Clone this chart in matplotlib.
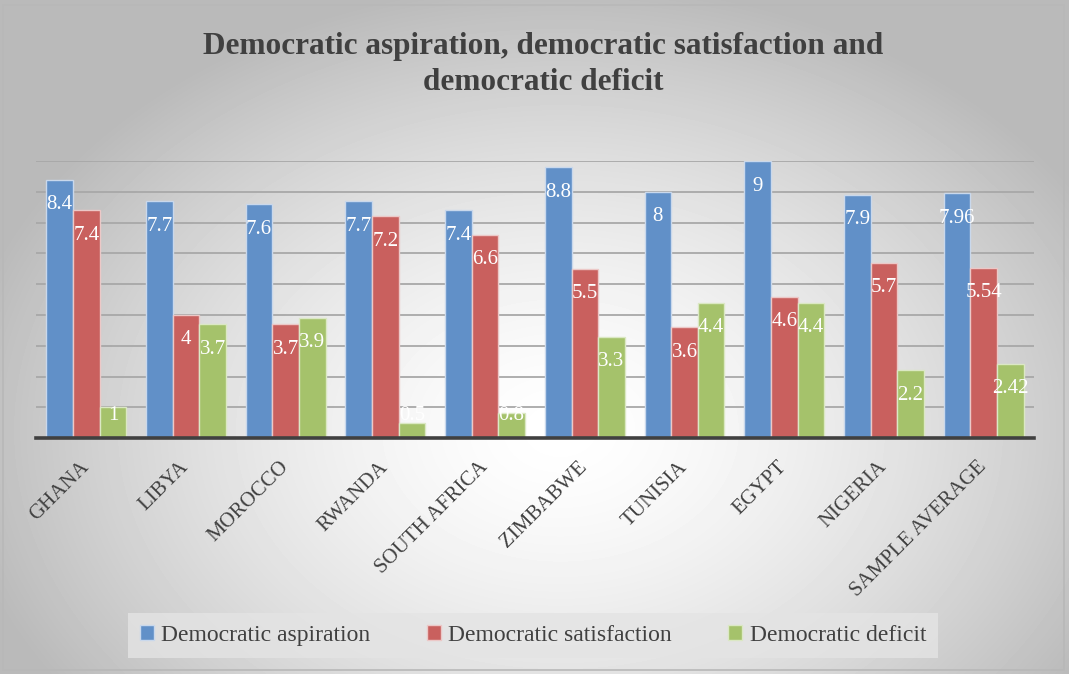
import numpy as np
import matplotlib
matplotlib.use("Agg")
from matplotlib import pyplot as plt
from matplotlib.transforms import ScaledTranslation

countries = ["GHANA", "LIBYA", "MOROCCO", "RWANDA", "SOUTH AFRICA", "ZIMBABWE",
             "TUNISIA", "EGYPT", "NIGERIA", "SAMPLE AVERAGE"]
aspiration = [8.4, 7.7, 7.6, 7.7, 7.4, 8.8, 8, 9, 7.9, 7.96]
satisfaction = [7.4, 4, 3.7, 7.2, 6.6, 5.5, 3.6, 4.6, 5.7, 5.54]
deficit = [1, 3.7, 3.9, 0.5, 0.8, 3.3, 4.4, 4.4, 2.2, 2.42]

series = [
    ("Democratic aspiration", aspiration, "#6190c8", "#c9d8ec"),
    ("Democratic satisfaction", satisfaction, "#c9605e", "#ecc8c7"),
    ("Democratic deficit", deficit, "#a5c26b", "#dbe8c4"),
]

serif = ["Liberation Serif", "DejaVu Serif"]
txt_color = "#404040"

fig = plt.figure(figsize=(10.69, 6.74), dpi=100)

# radial gradient background
bg = fig.add_axes([0, 0, 1, 1], zorder=-10)
yy, xx = np.mgrid[0:674, 0:1069]
r = np.sqrt(((xx - 560) / 680.0) ** 2 + ((yy - 430) / 500.0) ** 2)
shade = np.clip(1.0 - 0.32 * r ** 1.5, 0.73, 1.0)
bg.imshow(shade, cmap="gray", vmin=0, vmax=1, aspect="auto", extent=[0, 1, 0, 1])
bg.add_patch(plt.Rectangle((0.003, 0.006), 0.992, 0.986, fill=False,
                           edgecolor="#b8b8b8", lw=1.2, transform=bg.transAxes))
bg.set_axis_off()

ax = fig.add_axes([0.0341, 0.350, 0.9327, 0.411])
ax.patch.set_alpha(0)

x = np.arange(len(countries))
w = 0.267
for i, (name, vals, col, edge) in enumerate(series):
    pos = x + (i - 1) * w
    ax.bar(pos, vals, width=w, color=col, edgecolor=edge, linewidth=1.0,
           label=name, zorder=3)
    for p, v in zip(pos, vals):
        ax.text(p, max(v - 0.81, 0.75), f"{v:g}", ha="center", va="center",
                color="white", fontsize=15, family=serif, zorder=5)

ax.set_xlim(-0.5, len(countries) - 0.5)
ax.set_ylim(0, 9)
ax.set_yticks(np.arange(1, 10))
ax.yaxis.grid(True, color="#a8a8a8", lw=1.3, zorder=1)
ax.tick_params(axis="y", left=False, labelleft=False)
ax.tick_params(axis="x", length=0, pad=14)
for s in ["top", "right", "left"]:
    ax.spines[s].set_visible(False)
ax.spines["bottom"].set_color("#404040")
ax.spines["bottom"].set_linewidth(2.6)
ax.spines["bottom"].set_zorder(6)

ax.set_xticks(x)
ax.set_xticklabels(countries, rotation=45, ha="right", rotation_mode="anchor",
                   fontsize=15, family=serif, color=txt_color)
shift = ScaledTranslation(-7 / 100, 0, fig.dpi_scale_trans)
for lab in ax.get_xticklabels():
    lab.set_transform(lab.get_transform() + shift)

fig.text(0.508, 0.904, "Democratic aspiration, democratic satisfaction and\ndemocratic deficit",
         ha="center", va="center", fontsize=22.5, fontweight="bold", family=serif,
         color=txt_color, linespacing=1.3)

leg = fig.legend(loc="center", bbox_to_anchor=(0.4985, 0.057), ncol=3,
                 frameon=True, fancybox=False, handlelength=0.6, handleheight=0.6,
                 handletextpad=0.3, columnspacing=2.4, borderpad=0.5, borderaxespad=0,
                 prop={"family": serif, "size": 17})
leg.get_frame().set_facecolor("#e4e4e4")
leg.get_frame().set_edgecolor("none")
leg.get_frame().set_alpha(0.8)
for t in leg.get_texts():
    t.set_color(txt_color)

fig.savefig("out.png", dpi=100)
